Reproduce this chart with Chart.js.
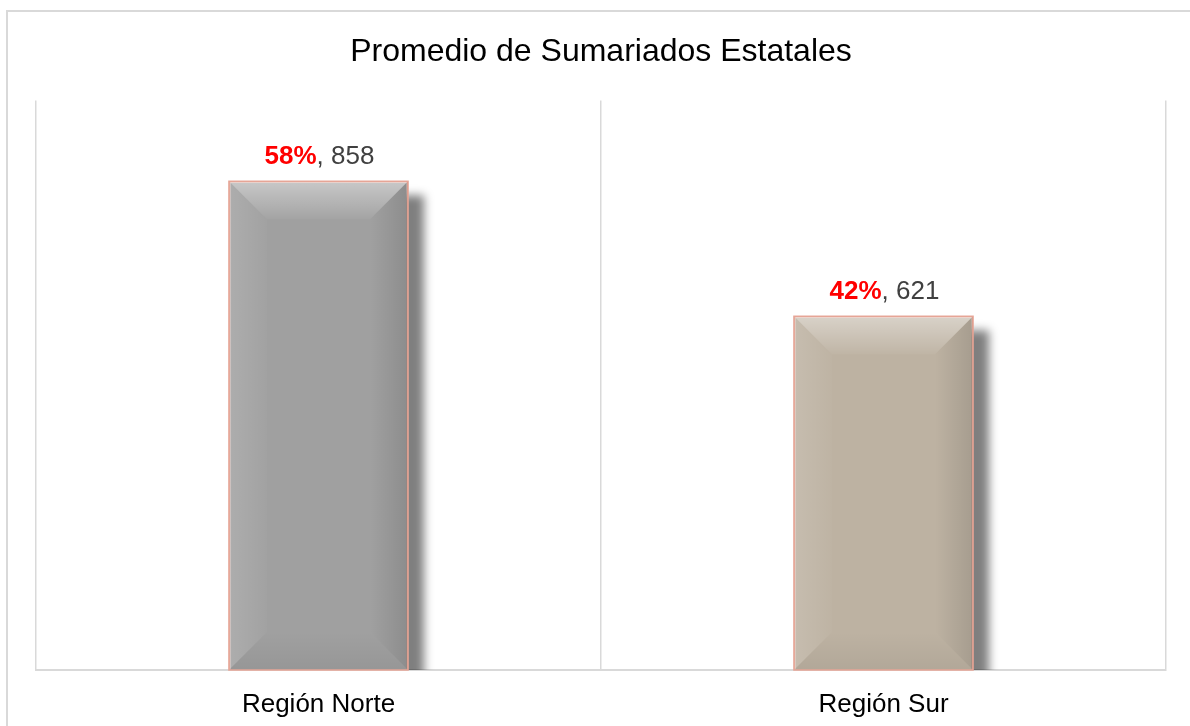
<!DOCTYPE html>
<html>
<head>
<meta charset="utf-8">
<script src="https://cdn.jsdelivr.net/npm/chart.js@4/dist/chart.umd.min.js"></script>
<style>
  html, body { margin: 0; padding: 0; background: #fff; overflow: hidden; }
  #wrap { position: relative; width: 1190px; height: 726px; }
  #frame { position: absolute; left: 6px; top: 10px; width: 1210px; height: 740px; border: 2px solid #d9d9d9; box-sizing: border-box; }
  canvas { position: absolute; left: 0; top: 0; }
</style>
</head>
<body>
<div id="wrap">
  <div id="frame"></div>
  <canvas id="chart" width="1190" height="726"></canvas>
</div>
<script>
/* datos */
const categories = ["Región Norte", "Región Sur"];
const totals = [858, 621];
const percents = [58, 42];
const barColors = ["#a0a0a0", "#bdb2a2"];
const FONT = '"Liberation Sans", Arial, sans-serif';

/* sombra + bisel de las barras */
const bevelPlugin = {
  id: "bevel",
  beforeDatasetsDraw(chart) {
    const { ctx, chartArea } = chart;
    ctx.save();
    ctx.beginPath();
    ctx.rect(chartArea.left, chartArea.top, chartArea.right - chartArea.left, chartArea.bottom - chartArea.top);
    ctx.clip();
    ctx.filter = "blur(5px)";
    ctx.fillStyle = "rgba(0,0,0,0.5)";
    chart.getDatasetMeta(0).data.forEach((bar) => {
      const w = bar.width;
      ctx.fillRect(bar.x - w / 2 + 16, bar.y + 14, w, bar.base - bar.y);
    });
    ctx.restore();
  },
  afterDatasetsDraw(chart) {
    const { ctx } = chart;
    const d = 38;
    const poly = (pts, fill) => {
      ctx.beginPath();
      ctx.moveTo(pts[0][0], pts[0][1]);
      pts.slice(1).forEach((p) => ctx.lineTo(p[0], p[1]));
      ctx.closePath();
      ctx.fillStyle = fill;
      ctx.fill();
    };
    const grad = (x0, y0, x1, y1, c0, c1) => {
      const g = ctx.createLinearGradient(x0, y0, x1, y1);
      g.addColorStop(0, c0);
      g.addColorStop(1, c1);
      return g;
    };
    ctx.save();
    chart.getDatasetMeta(0).data.forEach((bar) => {
      const w = bar.width;
      const L = bar.x - w / 2, R = bar.x + w / 2, T = bar.y, B = bar.base;
      // arriba
      poly([[L, T], [R, T], [R - d, T + d], [L + d, T + d]],
        grad(0, T, 0, T + d, "rgba(255,255,255,0.42)", "rgba(255,255,255,0.04)"));
      // izquierda
      poly([[L, T], [L + d, T + d], [L + d, B - d], [L, B]],
        grad(L, 0, L + d, 0, "rgba(255,255,255,0.14)", "rgba(255,255,255,0.02)"));
      // derecha
      poly([[R, T], [R, B], [R - d, B - d], [R - d, T + d]],
        grad(R - d, 0, R, 0, "rgba(0,0,0,0.0)", "rgba(0,0,0,0.12)"));
      // abajo
      poly([[L, B], [L + d, B - d], [R - d, B - d], [R, B]],
        grad(0, B - d, 0, B, "rgba(0,0,0,0.0)", "rgba(0,0,0,0.06)"));
      ctx.strokeStyle = "#e6a596";
      ctx.lineWidth = 1.5;
      ctx.strokeRect(L, T, w, B - T);
    });
    ctx.restore();
  },
};

/* etiquetas: porcentaje rojo + total */
const labelPlugin = {
  id: "valueLabels",
  afterDatasetsDraw(chart) {
    const { ctx } = chart;
    ctx.save();
    ctx.textBaseline = "middle";
    ctx.textAlign = "left";
    chart.getDatasetMeta(0).data.forEach((bar, i) => {
      const pctText = percents[i] + "%";
      const valText = ", " + totals[i];
      ctx.font = "bold 26px " + FONT;
      const w1 = ctx.measureText(pctText).width;
      ctx.font = "26px " + FONT;
      const w2 = ctx.measureText(valText).width;
      const x0 = bar.x - (w1 + w2) / 2 + 1;
      const y = bar.y - 24;
      ctx.font = "bold 26px " + FONT;
      ctx.fillStyle = "#ff0000";
      ctx.fillText(pctText, x0, y);
      ctx.font = "26px " + FONT;
      ctx.fillStyle = "#404040";
      ctx.fillText(valText, x0 + w1, y);
    });
    ctx.restore();
  },
};

new Chart(document.getElementById("chart"), {
  type: "bar",
  data: {
    labels: categories,
    datasets: [{
      data: totals,
      backgroundColor: barColors,
      borderColor: "#e6a596",
      borderWidth: 1.5,
      barPercentage: 0.317,
      categoryPercentage: 1,
    }],
  },
  options: {
    responsive: false,
    animation: false,
    layout: { padding: { top: 20, left: 36, right: 24, bottom: 7 } },
    plugins: {
      legend: { display: false },
      tooltip: { enabled: false },
      title: {
        display: true,
        text: "Promedio de Sumariados Estatales",
        color: "#000",
        font: { family: FONT, size: 32, weight: "normal" },
        padding: { top: 13, bottom: 29 },
      },
    },
    scales: {
      x: {
        grid: { color: "#d9d9d9", lineWidth: 1.5, drawTicks: false, offset: true },
        border: { color: "#d9d9d9", width: 2 },
        ticks: { color: "#000", padding: 19, font: { family: FONT, size: 26 } },
        afterFit(axis) { axis.height = 49; },
      },
      y: { display: false, min: 0, max: 1000 },
    },
  },
  plugins: [bevelPlugin, labelPlugin],
});
</script>
</body>
</html>
